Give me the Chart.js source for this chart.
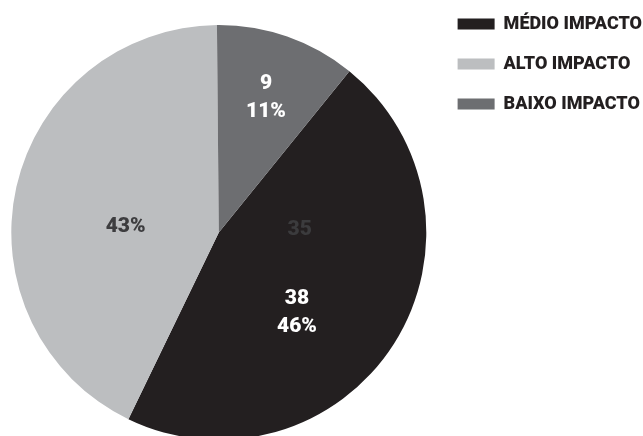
<!DOCTYPE html>
<html>
<head>
<meta charset="utf-8">
<script src="https://cdn.jsdelivr.net/npm/chart.js@4"></script>
<style>
  html, body { margin: 0; padding: 0; background: #ffffff; overflow: hidden; }
  #wrap { width: 643px; height: 436px; overflow: hidden; }
  #chart { display: block; margin-top: -8px; }
</style>
</head>
<body>
<div id="wrap"><canvas id="chart" width="654" height="480"></canvas></div>
<script>
// data
const categories = ['MÉDIO IMPACTO', 'ALTO IMPACTO', 'BAIXO IMPACTO'];
const counts = [38, 35, 9];
const percentLabels = ['46%', '43%', '11%'];
const sliceColors = ['#231f20', '#bcbec0', '#6d6e71'];

// label placement per slice: value / percent, as fraction along the arc and of the radius
const labelStyle = [
    { value: { at: 0.58, r: 0.54, dy: -14, color: '#ffffff' }, pct: { at: 0.58, r: 0.54, dy: 14, color: '#ffffff' } },
    { value: { at: -0.768, r: 0.39, dy: 0, color: '#3b3b3d' }, pct: { at: 0.44, r: 0.45, dy: 0, color: '#3d3d3f' } },
    { value: { at: 0.5, r: 0.69, dy: -14, color: '#ffffff' }, pct: { at: 0.5, r: 0.69, dy: 14, color: '#ffffff' } },
];

const sliceLabels = {
    id: 'sliceLabels',
    afterDatasetsDraw(chart) {
        const ctx = chart.ctx;
        const meta = chart.getDatasetMeta(0);
        ctx.save();
        ctx.font = '900 21px Roboto';
        ctx.textAlign = 'center';
        ctx.textBaseline = 'middle';
        meta.data.forEach((arc, i) => {
            const p = arc.getProps(['x', 'y', 'startAngle', 'endAngle', 'outerRadius'], true);
            const put = (text, s) => {
                const a = p.startAngle + (p.endAngle - p.startAngle) * s.at;
                const r = p.outerRadius * s.r;
                ctx.fillStyle = s.color;
                ctx.fillText(text, p.x + Math.cos(a) * r, p.y + Math.sin(a) * r + s.dy);
            };
            put(String(counts[i]), labelStyle[i].value);
            put(percentLabels[i], labelStyle[i].pct);
        });
        ctx.restore();
    }
};

const myChart = new Chart(document.getElementById('chart'), {
    type: 'pie',
    data: {
        labels: categories,
        datasets: [{
            data: counts,
            backgroundColor: sliceColors,
            borderWidth: 0,
            radius: 207.5,
        }],
    },
    options: {
        responsive: false,
        animation: false,
        events: [],
        rotation: 39,
        layout: {
            padding: { top: 1, bottom: 0, left: 2, right: 2 },
        },
        plugins: {
            tooltip: { enabled: false },
            legend: {
                position: 'right',
                align: 'start',
                labels: {
                    boxWidth: 37,
                    boxHeight: 11,
                    padding: 22,
                    color: '#231f20',
                    font: { family: 'Roboto', size: 18, weight: '900' },
                },
            },
        },
    },
    plugins: [sliceLabels],
});
</script>
</body>
</html>
